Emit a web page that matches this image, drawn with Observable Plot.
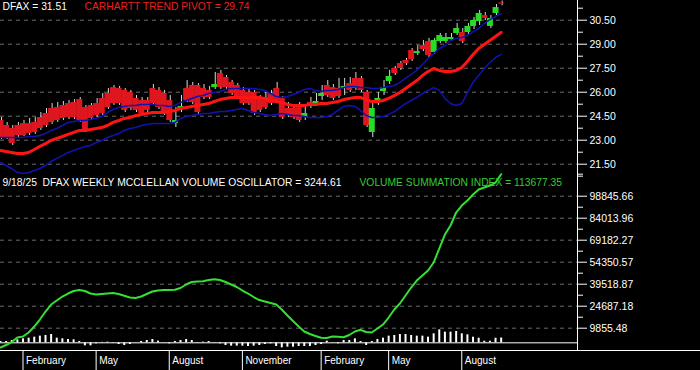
<!DOCTYPE html>
<html><head><meta charset="utf-8">
<script src="https://cdn.jsdelivr.net/npm/d3@7"></script>
<script src="https://cdn.jsdelivr.net/npm/@observablehq/plot@0.6"></script>
<style>
html,body{margin:0;padding:0;background:#000;}
#chart{position:relative;width:700px;height:370px;background:#000;overflow:hidden;}
#chart svg{position:absolute;left:0;top:0;}
.ln{position:absolute;background:#fff;}
</style></head><body>
<div id="chart"></div>
<script>
// ---------- data ----------
const ticker = "DFAX";
const asOf = "9/18/25";
const firstWeek = "2024-01-05";
const open = [24.23,23.92,23.73,23.92,24.04,24.04,24.11,24.42,24.67,24.98,
25.04,25.17,25.29,25.36,25.54,25.04,25.17,25.29,25.61,25.92,
26.29,26.23,26.11,25.98,25.61,25.48,25.48,26.23,26.11,25.92,
25.48,24.04,24.92,26.23,26.42,26.42,26.23,26.11,26.29,27.17,
26.92,26.61,26.42,26.11,25.98,25.98,25.67,25.67,25.92,26.23,
25.61,24.98,24.98,25.04,24.42,25.36,25.23,25.73,26.42,26.29,
26.23,26.23,26.54,26.86,26.86,25.98,23.48,25.36,26.04,26.67,
27.48,27.79,27.98,28.61,28.42,28.92,29.17,28.48,29.17,29.17,
29.29,29.67,29.73,29.73,30.11,30.42,30.79,30.11,30.92,31.58];
const high = [24.42,24.11,23.92,24.11,24.23,24.36,24.42,24.73,24.98,25.29,
25.36,25.42,25.48,25.54,25.67,25.17,25.29,25.61,25.92,26.23,
26.42,26.36,26.23,26.11,25.79,25.67,25.67,26.48,26.29,26.11,
25.79,25.04,25.79,26.73,26.61,26.54,26.48,26.36,27.23,27.36,
27.04,26.73,26.54,26.29,26.17,26.11,25.79,25.98,26.11,26.61,
25.73,25.36,25.17,25.36,25.17,25.67,25.92,26.42,26.73,26.48,
26.86,26.86,26.92,27.23,26.98,26.11,25.29,25.98,26.73,27.36,
27.61,27.92,28.11,28.73,28.92,29.23,29.36,29.36,29.67,29.67,
29.67,30.29,29.98,30.29,30.67,31.11,30.98,30.79,31.48,31.70];
const low = [23.04,23.04,22.67,23.17,23.23,23.29,23.36,23.61,23.79,23.98,
24.11,24.23,24.29,24.29,24.11,23.48,24.23,24.42,24.54,24.92,
25.17,25.17,24.73,24.86,24.73,24.54,24.73,25.17,24.92,24.54,
24.11,23.79,24.73,25.36,25.23,24.61,25.54,25.54,26.17,26.17,
26.17,25.79,25.54,25.17,25.17,24.54,24.73,24.92,25.17,25.36,
24.29,24.42,24.29,24.11,24.23,24.98,25.11,25.48,25.67,25.48,
25.61,25.79,25.98,26.11,25.98,23.79,23.17,25.17,25.79,26.48,
27.04,27.36,27.67,27.92,28.29,28.54,28.17,28.36,29.04,29.04,
29.17,29.54,29.04,29.61,29.92,30.17,30.48,29.98,30.79,31.40];
const close = [23.17,23.17,22.79,23.29,23.29,23.42,23.48,23.73,23.92,24.11,
24.23,24.36,24.42,24.42,24.23,23.61,24.36,24.54,24.67,25.04,
25.29,25.29,24.86,24.98,24.86,24.67,24.86,25.29,25.04,24.67,
24.23,24.23,25.11,25.48,25.36,24.73,25.67,25.67,26.48,26.29,
26.29,25.92,25.67,25.29,25.29,24.67,24.86,25.04,25.29,25.48,
24.42,24.54,24.42,24.23,24.67,25.11,25.42,25.92,25.79,25.61,
25.73,26.36,26.11,26.23,26.11,23.92,24.98,25.61,26.29,26.98,
27.17,27.48,27.79,28.04,28.54,28.67,28.29,29.23,29.54,29.42,
29.42,29.98,29.17,30.11,30.48,30.92,30.61,30.61,31.29,31.51];
const pivot = [22.36,22.29,22.23,22.17,22.17,22.23,22.42,22.61,22.79,22.98,
23.11,23.23,23.36,23.48,23.61,23.61,23.67,23.73,23.79,23.92,
24.11,24.23,24.36,24.42,24.54,24.61,24.67,24.73,24.73,24.73,
24.79,24.86,24.98,25.04,25.11,25.17,25.23,25.29,25.42,25.54,
25.61,25.67,25.67,25.67,25.67,25.67,25.67,25.61,25.48,25.42,
25.36,25.23,25.17,25.17,25.17,25.23,25.23,25.29,25.29,25.36,
25.42,25.54,25.61,25.67,25.67,25.54,25.42,25.42,25.48,25.61,
25.79,25.98,26.23,26.48,26.73,27.04,27.29,27.48,27.36,27.29,
27.29,27.36,27.54,27.92,28.36,28.73,28.98,29.23,29.48,29.74];
const upperBand = [23.17,23.17,23.17,23.17,23.17,23.23,23.23,23.29,23.42,23.61,
23.73,23.92,24.11,24.17,24.23,24.23,24.29,24.36,24.48,24.73,
24.92,25.04,25.11,25.17,25.17,25.23,25.23,25.23,25.17,25.17,
25.11,25.17,25.36,25.48,25.61,25.73,25.79,25.92,25.98,26.04,
26.17,26.23,26.23,26.23,26.23,26.23,26.17,26.11,25.92,25.73,
25.67,25.73,25.86,25.98,26.17,26.23,26.11,26.04,26.11,26.11,
26.17,26.29,26.36,26.36,26.29,26.29,26.23,26.23,26.29,26.36,
26.42,26.61,26.86,27.11,27.36,27.73,28.11,28.42,28.73,28.92,
29.23,29.36,29.42,29.54,29.79,29.98,30.29,30.54,30.73,30.92];
const lowerBand = [21.61,21.42,21.23,20.98,20.92,20.98,21.11,21.23,21.42,21.67,
21.86,22.04,22.23,22.36,22.48,22.61,22.67,22.86,22.98,23.17,
23.29,23.42,23.61,23.73,23.79,23.92,23.98,24.04,24.04,24.04,
24.04,24.11,24.36,24.48,24.54,24.61,24.67,24.67,24.73,24.79,
24.79,24.86,24.92,24.98,24.86,24.73,24.67,24.61,24.54,24.61,
24.67,24.61,24.54,24.54,24.48,24.42,24.42,24.42,24.48,24.61,
24.86,25.11,25.17,25.11,24.86,24.54,24.42,24.42,24.48,24.61,
24.79,25.04,25.29,25.48,25.67,25.92,26.11,26.29,26.11,25.61,
25.29,25.17,25.29,25.98,26.61,27.04,27.48,27.86,28.17,28.36];
const vsi = [-3169,-1483,539,3573,4247,6944,10989,15709,21102,25822,
28519,31215,33238,34924,35598,34924,33238,32564,32901,33238,
33575,32901,31687,30541,30204,31215,32901,34586,35261,35598,
35598,35733,36946,39306,40991,41328,41531,42340,42879,42340,
40991,39306,37620,35261,33238,30878,28856,27844,26833,25822,
22451,18406,14698,10989,7618,5933,4585,3371,3236,4247,
4045,3776,5259,7618,8765,7281,6944,9641,12338,17057,
22451,26496,31890,37283,42003,45374,48745,54138,63577,73016,
79084,87848,92567,95939,99984,103355,104701,106051,108074,113677.35];
const vosc = [900,900,1573,2022,2696,3146,3820,4494,4943,5618,
3146,2696,2247,2022,899,-2022,-2022,-674,300,449,
-225,-1124,-1798,-1124,150,899,1573,2247,1124,200,
-674,899,1573,2247,1573,225,449,899,225,-674,
-1798,-2247,-2247,-2247,-2472,-2247,-1798,-1124,-674,-2472,
-3371,-2921,-2921,-2472,-2472,-2472,-1798,-1124,1124,100,
-674,1573,1573,2696,899,-1798,899,2247,3146,4494,
4943,5618,5618,4943,4494,4494,3820,6067,8763,7190,
7190,7640,6067,5393,3776,3100,1079,1079,3100,3244.61];
const priceTicks = [30.5, 29, 27.5, 26, 24.5, 23, 21.5];
const priceMinorTicks = [31.25, 29.75, 28.25, 26.75, 25.25, 23.75, 22.25, 20.75];
const volTicks = [98845.66, 84013.96, 69182.27, 54350.57, 39518.87, 24687.18, 9855.48];
const volMinorTicks = [113677.35, 91429.81, 76598.12, 61766.42, 46934.72, 32103.03, 17271.33];
const monthTicks = ["2024-02-02","2024-05-03","2024-08-02","2024-11-01","2025-02-07","2025-05-02","2025-08-01"];
const monthLabels = ["February","May","August","November","February","May","August"];

// ---------- build ----------
const dates = d3.utcFriday.range(new Date(firstWeek), d3.utcFriday.offset(new Date(firstWeek), open.length));
const rows = dates.map((date, i) => ({
  date, open: open[i], high: high[i], low: low[i], close: close[i],
  pivot: pivot[i], upper: upperBand[i], lower: lowerBand[i], vsi: vsi[i], vosc: vosc[i]
}));
const monthDates = monthTicks.map(d => new Date(d));

const FONT = "'Liberation Sans', Arial, Helvetica, sans-serif";
const W = 700, H = 370, AX = 577;
const xScale = {type: "utc", domain: [new Date("2024-01-05"), new Date("2025-12-23")], axis: null};
const baseStyle = {background: "transparent", color: "#fff", fontFamily: FONT, fontSize: "10.5px", overflow: "visible"};
const RED = "#e0161e", GREEN = "#25dd25";

const pricePlot = Plot.plot({
  width: W, height: H, marginLeft: 0, marginRight: W - AX, marginTop: 0, marginBottom: 20,
  style: baseStyle,
  x: xScale,
  y: {domain: [21.5, 30.5], range: [163.7, 19.7], label: null},
  color: {type: "identity"},
  marks: [
    Plot.gridY(priceTicks, {stroke: "#6a6a6a", strokeOpacity: 1, strokeDasharray: "4,4"}),
    Plot.ruleX(rows, {x: "date", y1: "low", y2: "high", stroke: "#d8d8d8", strokeWidth: 1, dx: 1}),
    Plot.ruleX(rows, {x: "date", y1: "open", y2: "close", strokeWidth: 6,
      stroke: d => d.close >= d.open ? GREEN : RED}),
    Plot.line(rows, {x: "date", y: "upper", stroke: "#1212b4", strokeWidth: 1.5}),
    Plot.line(rows, {x: "date", y: "lower", stroke: "#1212b4", strokeWidth: 1.5}),
    Plot.line(rows, {x: "date", y: "pivot", stroke: "#ff1414", strokeWidth: 3}),
    Plot.axisY(priceTicks, {anchor: "right", tickSize: 9, tickPadding: 3, tickFormat: d => d.toFixed(2), label: null, fontSize: 10.5}),
    Plot.axisY(priceMinorTicks, {anchor: "right", tickSize: 5, tickFormat: () => "", label: null}),
    Plot.text([`${ticker} = ${close.at(-1).toFixed(2)}`], {frameAnchor: "top-left", dx: 2, dy: 6.7,
      textAnchor: "start", lineAnchor: "middle", fill: "#fff", fontSize: 10.3}),
    Plot.text([`CARHARTT TREND PIVOT = ${pivot.at(-1).toFixed(2)}`], {frameAnchor: "top-left", dx: 84, dy: 6.7,
      textAnchor: "start", lineAnchor: "middle", fill: "#e82020", fontSize: 10.3})
  ]
});

const volumePlot = Plot.plot({
  width: W, height: H, marginLeft: 0, marginRight: W - AX, marginTop: 0, marginBottom: 20,
  style: baseStyle,
  x: xScale,
  y: {domain: [9855.48, 98845.66], range: [327.7, 195.7], label: null},
  marks: [
    Plot.gridY(volTicks, {stroke: "#6a6a6a", strokeOpacity: 1, strokeDasharray: "4,4"}),
    Plot.text([`${asOf}\u00a0 ${ticker} WEEKLY MCCLELLAN VOLUME OSCILLATOR = ${vosc.at(-1).toFixed(2)}`], {frameAnchor: "top-left", dx: 2, dy: 182.4,
      textAnchor: "start", lineAnchor: "middle", fill: "#fff", fontSize: 10.3}),
    Plot.text([`VOLUME SUMMATION INDEX = ${vsi.at(-1).toFixed(2)}`], {frameAnchor: "top-left", dx: 359, dy: 182.4,
      textAnchor: "start", lineAnchor: "middle", fill: "#33cc33", fontSize: 10.3}),
    Plot.ruleY([0], {stroke: "#fff", strokeWidth: 1}),
    Plot.ruleX(rows, {x: "date", y1: 0, y2: "vosc", stroke: "#fff", strokeWidth: 2}),
    Plot.line(rows, {x: "date", y: "vsi", stroke: "#33e033", strokeWidth: 2}),
    Plot.axisY(volTicks, {anchor: "right", tickSize: 9, tickPadding: 3, tickFormat: d => d.toFixed(2), label: null, fontSize: 10.5}),
    Plot.axisY(volMinorTicks, {anchor: "right", tickSize: 5, tickFormat: () => "", label: null}),
    Plot.axisX(monthDates, {anchor: "bottom", tickSize: 20, tickFormat: () => "", label: null}),
    Plot.text(monthDates, {x: d => d, text: (d, i) => monthLabels[i], frameAnchor: "bottom", dx: 3, dy: 10,
      textAnchor: "start", lineAnchor: "middle", fill: "#fff", fontSize: 10})
  ]
});

const chart = document.getElementById("chart");
chart.appendChild(pricePlot);
chart.appendChild(volumePlot);
const vline = document.createElement("div");
vline.className = "ln";
Object.assign(vline.style, {left: AX + "px", top: "0px", width: "1px", height: "351px"});
const hline = document.createElement("div");
hline.className = "ln";
Object.assign(hline.style, {left: "0px", top: "350px", width: W + "px", height: "1px"});
chart.appendChild(vline);
chart.appendChild(hline);
</script>
</body></html>
